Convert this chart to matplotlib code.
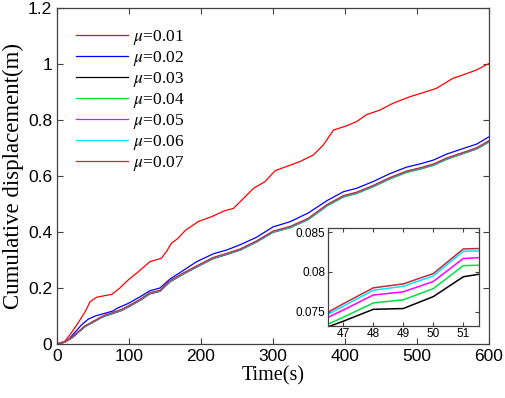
import matplotlib
matplotlib.use('Agg')
import matplotlib.pyplot as plt

plt.rcParams['mathtext.fontset'] = 'stix'

# mu = 0.01 (upper curve)
t_01 = [0, 6, 10, 16, 20, 30, 39, 46, 55, 67, 76, 87, 99, 113, 129, 145, 152, 159, 168, 178,
        196, 215, 233, 245, 259, 273, 289, 303, 321, 337, 356, 370, 384, 402, 416, 430, 449,
        467, 490, 509, 527, 550, 564, 583, 600]
d_01 = [0, 0.006, 0.008, 0.026, 0.040, 0.078, 0.115, 0.151, 0.167, 0.173, 0.177, 0.199, 0.229,
        0.258, 0.294, 0.306, 0.330, 0.360, 0.377, 0.405, 0.437, 0.455, 0.476, 0.484, 0.520,
        0.556, 0.580, 0.619, 0.636, 0.651, 0.675, 0.711, 0.764, 0.779, 0.794, 0.819, 0.836,
        0.860, 0.883, 0.898, 0.913, 0.949, 0.961, 0.979, 1.002]

# mu = 0.02
t_02 = [0, 10, 16, 25, 34, 43, 53, 67, 78, 83, 99, 115, 129, 143, 157, 175, 194, 217, 236,
        254, 277, 300, 324, 349, 375, 398, 416, 439, 462, 486, 504, 523, 541, 564, 583, 600]
d_02 = [0, 0.006, 0.016, 0.042, 0.068, 0.088, 0.100, 0.110, 0.118, 0.127, 0.145, 0.168, 0.190,
        0.200, 0.232, 0.262, 0.294, 0.322, 0.336, 0.354, 0.381, 0.418, 0.437, 0.468, 0.512,
        0.544, 0.556, 0.580, 0.608, 0.632, 0.643, 0.657, 0.678, 0.698, 0.714, 0.740]

# mu = 0.03 ... 0.07 share one time grid
t_low = [0, 10, 20, 30, 39, 46, 47, 48, 49, 50, 51, 52, 60, 67, 78, 90, 99, 115, 129, 143, 157,
         175, 194, 217, 236, 254, 277, 300, 324, 349, 375, 398, 416, 439, 462, 486, 504, 523,
         541, 564, 583, 600]
d_03 = [0, 0.006, 0.020, 0.042, 0.062, 0.0724, 0.0738, 0.0753, 0.0754, 0.0769, 0.0794, 0.0800,
        0.092, 0.100, 0.109, 0.120, 0.132, 0.155, 0.179, 0.188, 0.222, 0.249, 0.275, 0.305,
        0.320, 0.335, 0.364, 0.399, 0.416, 0.445, 0.494, 0.526, 0.538, 0.562, 0.590, 0.614,
        0.625, 0.639, 0.660, 0.680, 0.697, 0.722]
d_04 = [0, 0.006, 0.021, 0.043, 0.063, 0.0726, 0.0743, 0.0761, 0.0765, 0.0779, 0.0808, 0.0809,
        0.093, 0.101, 0.110, 0.121, 0.133, 0.156, 0.180, 0.189, 0.222, 0.250, 0.276, 0.305,
        0.321, 0.335, 0.364, 0.399, 0.415, 0.444, 0.493, 0.525, 0.537, 0.561, 0.589, 0.613,
        0.624, 0.638, 0.659, 0.680, 0.697, 0.721]
d_05 = [0, 0.007, 0.021, 0.044, 0.064, 0.0734, 0.0752, 0.0771, 0.0775, 0.0788, 0.0817, 0.0819,
        0.094, 0.102, 0.111, 0.122, 0.134, 0.157, 0.181, 0.190, 0.224, 0.251, 0.277, 0.307,
        0.322, 0.337, 0.366, 0.401, 0.418, 0.447, 0.496, 0.528, 0.540, 0.564, 0.592, 0.616,
        0.627, 0.641, 0.662, 0.682, 0.699, 0.724]
d_06 = [0, 0.007, 0.022, 0.044, 0.064, 0.0737, 0.0757, 0.0777, 0.0782, 0.0795, 0.0826, 0.0827,
        0.094, 0.103, 0.112, 0.123, 0.135, 0.158, 0.182, 0.191, 0.225, 0.252, 0.278, 0.308,
        0.323, 0.338, 0.367, 0.402, 0.419, 0.448, 0.497, 0.529, 0.541, 0.565, 0.593, 0.617,
        0.628, 0.642, 0.663, 0.683, 0.700, 0.725]
d_07 = [0, 0.007, 0.022, 0.045, 0.065, 0.0739, 0.0760, 0.0780, 0.0785, 0.0798, 0.0829, 0.0830,
        0.095, 0.104, 0.113, 0.124, 0.136, 0.159, 0.183, 0.192, 0.226, 0.253, 0.279, 0.309,
        0.324, 0.339, 0.368, 0.403, 0.420, 0.449, 0.498, 0.530, 0.542, 0.566, 0.594, 0.618,
        0.629, 0.643, 0.664, 0.684, 0.701, 0.726]

labels = ['0.01', '0.02', '0.03', '0.04', '0.05', '0.06', '0.07']
colors = ['#ff0000', '#0000ff', '#000000', '#00e040', '#ff00ff', '#00e8ff', '#c8283a']
series = [(t_01, d_01), (t_02, d_02), (t_low, d_03), (t_low, d_04),
          (t_low, d_05), (t_low, d_06), (t_low, d_07)]

x_ticks = [0, 100, 200, 300, 400, 500, 600]
y_ticks = [0, 0.2, 0.4, 0.6, 0.8, 1.0, 1.2]
inset_x_ticks = [47, 48, 49, 50, 51]
inset_y_ticks = [0.075, 0.08, 0.085]

spine_col = '#404040'


def style_box(ax, size):
    for s in ax.spines.values():
        s.set_color(spine_col)
        s.set_linewidth(0.9)
    ax.tick_params(direction='in', top=True, right=True, colors=spine_col,
                   labelcolor='black', labelsize=size, length=4, width=0.8)
    for lab in ax.get_xticklabels() + ax.get_yticklabels():
        lab.set_family('Liberation Sans')


fig = plt.figure(figsize=(5.05, 3.98), dpi=100)
ax = fig.add_axes([0.1129, 0.1357, 0.8554, 0.8442])

for (tt, dd), lab, col in zip(series, labels, colors):
    ax.plot(tt, dd, color=col, lw=0.9, label=r'$\mu$=' + lab)

ax.set_xlim(0, 600)
ax.set_ylim(0, 1.2)
ax.set_xticks(x_ticks)
ax.set_yticks(y_ticks)
ax.set_xticklabels([str(v) for v in x_ticks])
ax.set_yticklabels(['%g' % v for v in y_ticks])
style_box(ax, 12.5)
ax.set_xlabel('Time(s)', family='Liberation Serif', fontsize=14.5, labelpad=2)
ax.set_ylabel('Cumulative displacement(m)', family='Liberation Serif', fontsize=16.5, labelpad=3)

leg = ax.legend(loc='upper left', bbox_to_anchor=(67 / 505, 1 - 19 / 398),
                bbox_transform=fig.transFigure, frameon=False, borderpad=0,
                handlelength=3.0, handletextpad=0.3, labelspacing=0.12,
                prop={'family': 'Liberation Serif', 'size': 12.5})

# zoomed inset around t = 47..51 s
axin = fig.add_axes([0.650, 0.1817, 0.299, 0.2447])
for (tt, dd), col in zip(series, colors):
    axin.plot(tt, dd, color=col, lw=1.1)
axin.set_xlim(46.5, 51.53)
axin.set_ylim(0.07324, 0.0855)
axin.set_xticks(inset_x_ticks)
axin.set_yticks(inset_y_ticks)
axin.set_xticklabels([str(v) for v in inset_x_ticks])
axin.set_yticklabels(['0.075', '0.08', '0.085'])
style_box(axin, 8.5)
axin.tick_params(length=3, pad=2)

fig.savefig('out.png', dpi=100)
